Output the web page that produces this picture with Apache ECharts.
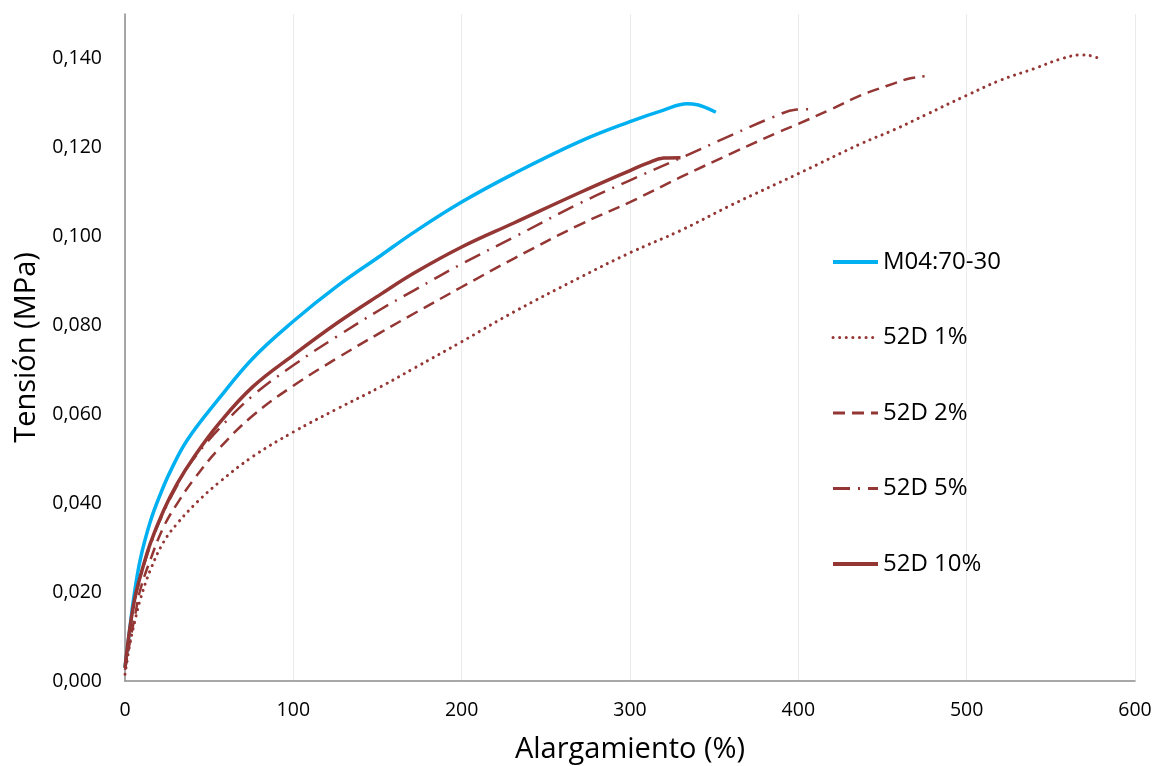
<!DOCTYPE html>
<html>
<head>
<meta charset="utf-8">
<script src="https://cdn.jsdelivr.net/npm/echarts@6/dist/echarts.min.js"></script>
<style>
html,body{margin:0;padding:0;background:#fff;}
#chart{width:1157px;height:766px;}
</style>
</head>
<body>
<div id="chart"></div>
<script>
// ---- data ----
const seriesNames = ['M04:70-30', '52D 1%', '52D 2%', '52D 5%', '52D 10%'];

const m04X = [0, 3, 5, 9, 15, 21, 27, 37, 56, 76, 100, 126, 152, 172, 200, 231, 270, 300, 320, 334, 340, 344, 351];
const m04Y = [0.003, 0.0122, 0.0182, 0.0272, 0.0358, 0.0420, 0.0472, 0.0542, 0.0636, 0.0726, 0.0809, 0.0888, 0.0957, 0.1010, 0.1077, 0.1141, 0.1213, 0.1258, 0.1284, 0.1298, 0.1296, 0.1291, 0.1279];

const d1X = [0, 3, 6, 9, 15, 23, 31, 43, 56, 76, 100, 126, 152, 172, 200, 231, 270, 300, 330, 360, 400, 437, 457, 476, 500, 520, 540, 556, 568, 574, 578];
const d1Y = [0.0015, 0.0085, 0.0137, 0.0182, 0.0249, 0.0313, 0.0354, 0.0403, 0.0447, 0.0505, 0.0560, 0.0612, 0.0662, 0.0704, 0.0763, 0.0830, 0.0907, 0.0963, 0.1013, 0.1070, 0.1141, 0.1208, 0.1240, 0.1274, 0.1317, 0.1351, 0.1377, 0.1399, 0.1408, 0.1406, 0.1401];

const d2X = [0, 3, 6, 9, 15, 23, 31, 41, 56, 76, 100, 126, 152, 172, 200, 231, 270, 300, 330, 360, 388, 400, 419, 437, 447, 457, 466, 475];
const d2Y = [0.0025, 0.009, 0.0148, 0.0204, 0.0272, 0.0347, 0.0399, 0.0454, 0.0523, 0.0597, 0.0664, 0.0726, 0.0784, 0.0827, 0.0886, 0.0950, 0.1026, 0.1077, 0.1133, 0.1186, 0.1234, 0.1253, 0.1285, 0.1317, 0.1331, 0.1344, 0.1355, 0.1360];

const d5X = [0, 3, 6, 9, 15, 23, 31, 37, 45, 56, 76, 100, 126, 152, 172, 200, 231, 270, 300, 330, 360, 385, 399, 410];
const d5Y = [0.003, 0.012, 0.0185, 0.023, 0.0305, 0.038, 0.044, 0.048, 0.052, 0.0568, 0.0642, 0.0710, 0.0775, 0.0836, 0.0879, 0.0938, 0.0998, 0.1074, 0.1126, 0.1176, 0.1227, 0.1268, 0.1285, 0.1286];

const d10X = [0, 3, 6, 9, 15, 23, 31, 41, 56, 76, 100, 126, 152, 172, 200, 231, 270, 300, 310, 320, 330];
const d10Y = [0.003, 0.0122, 0.0189, 0.0234, 0.0309, 0.0384, 0.0444, 0.0504, 0.0580, 0.0662, 0.0733, 0.0805, 0.0870, 0.0918, 0.0976, 0.1030, 0.1098, 0.1148, 0.1164, 0.1176, 0.1177];

const xTicks = [0, 100, 200, 300, 400, 500, 600];
const yTicks = [0, 0.02, 0.04, 0.06, 0.08, 0.10, 0.12, 0.14];

// ---- chart ----
const BLUE = '#00B0F0';
const RED = '#943634';
const FONT = 'Open Sans';

function pairs(xs, ys) { return xs.map((x, i) => [x, ys[i]]); }

const chart = echarts.init(document.getElementById('chart'), null, {renderer: 'canvas'});

function mk(name, xs, ys, color, width, dash, cap) {
  return {
    name: name,
    type: 'line',
    data: pairs(xs, ys),
    showSymbol: false,
    symbol: 'none',
    smooth: 0.4,
    animation: false,
    lineStyle: {color: color, width: width, type: dash, cap: cap || 'butt'},
    itemStyle: {color: color},
    emphasis: {disabled: true}
  };
}

const legendWidths = [4, 3, 3, 3, 4];

chart.setOption({
  backgroundColor: '#ffffff',
  animation: false,
  textStyle: {fontFamily: FONT},
  grid: {left: 125, right: 22, top: 14, bottom: 85, containLabel: false, outerBoundsMode: 'none'},
  legend: {
    orient: 'vertical',
    left: 831,
    top: 250,
    padding: 0,
    itemWidth: 45,
    itemHeight: 14,
    itemGap: 51.5,
    data: seriesNames.map((n, i) => ({name: n, lineStyle: {width: legendWidths[i]}})),
    itemStyle: {opacity: 0},
    textStyle: {fontFamily: FONT, fontSize: 24, lineHeight: 23, color: '#000'},
    selectedMode: false
  },
  xAxis: {
    type: 'value',
    min: xTicks[0],
    max: xTicks[xTicks.length - 1],
    interval: 100,
    name: 'Alargamiento (%)',
    nameLocation: 'middle',
    nameGap: 54,
    nameTextStyle: {fontFamily: FONT, fontSize: 29, color: '#000'},
    axisLine: {show: true, onZero: false, lineStyle: {color: '#8c8c8c', width: 1.5}},
    axisTick: {show: false},
    axisLabel: {fontFamily: FONT, fontSize: 19.5, color: '#000', margin: 19},
    splitLine: {show: true, lineStyle: {color: '#ebebeb', width: 1}}
  },
  yAxis: {
    type: 'value',
    min: yTicks[0],
    max: 0.15,
    interval: 0.02,
    name: 'Tensión (MPa)',
    nameLocation: 'middle',
    nameRotate: 90,
    nameGap: 84,
    nameTextStyle: {fontFamily: FONT, fontSize: 29, color: '#000'},
    axisLine: {show: true, onZero: false, lineStyle: {color: '#8c8c8c', width: 1.5}},
    axisTick: {show: false},
    axisLabel: {
      fontFamily: FONT, fontSize: 19.5, color: '#000', margin: 23,
      showMaxLabel: false,
      formatter: function (v) {
        if (v > 0.145) return '';
        return v.toFixed(3).replace('.', ',');
      }
    },
    splitLine: {show: false}
  },
  series: [
    mk(seriesNames[0], m04X, m04Y, BLUE, 3.5, 'solid'),
    mk(seriesNames[1], d1X, d1Y, RED, 3, [0.1, 6.5], 'round'),
    mk(seriesNames[2], d2X, d2Y, RED, 2.5, [12, 7]),
    mk(seriesNames[3], d5X, d5Y, RED, 2.5, [17, 8, 2, 8]),
    mk(seriesNames[4], d10X, d10Y, RED, 3.5, 'solid')
  ]
});
</script>
</body>
</html>
